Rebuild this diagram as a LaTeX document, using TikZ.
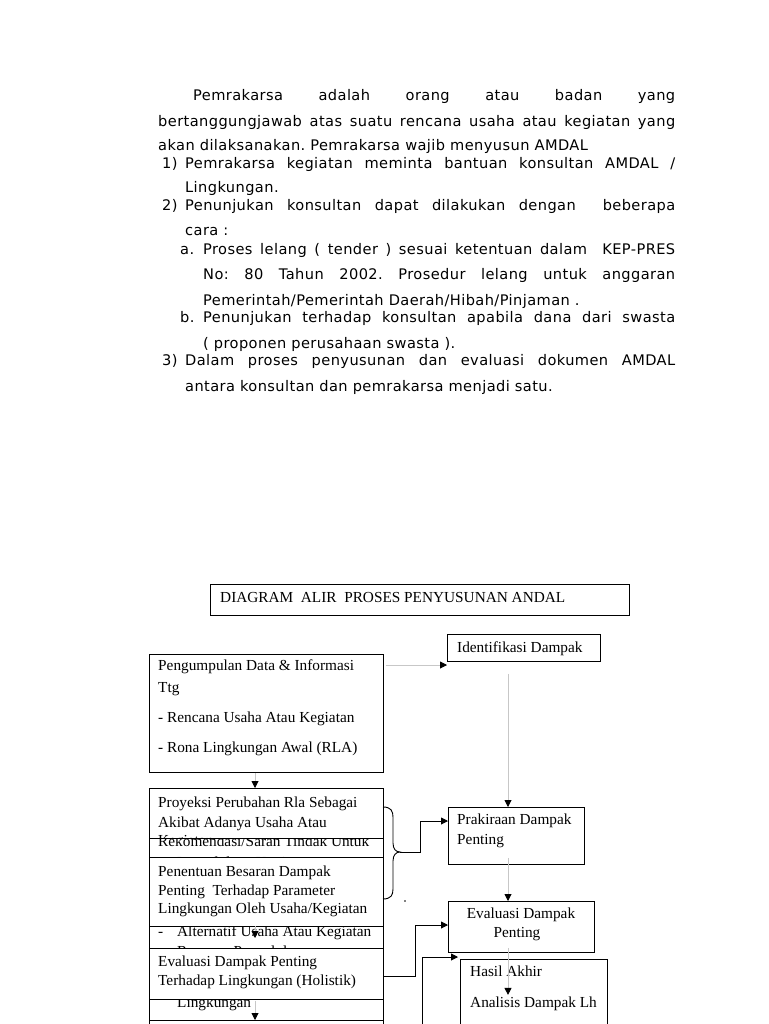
\documentclass[tikz,border=0pt]{standalone}
\usepackage{fontspec}
\setmainfont{Liberation Serif}
\newfontfamily\parafont[LetterSpace=2.8]{DejaVu Sans}
\usetikzlibrary{arrows.meta}
\frenchspacing
\tikzset{
  pl/.style={anchor=base west, inner sep=0pt, font=\parafont\fontsize{14.6}{17}\selectfont},
  bx/.style={draw=black, fill=white, line width=0.9pt, inner sep=0pt, anchor=north west},
  tx/.style={anchor=base west, inner sep=0pt, font=\fontsize{15.3}{18}\selectfont},
  gl/.style={draw=black!22, line width=0.9pt, -{Triangle[length=7pt,width=7pt,color=black]}},
  bl/.style={draw=black, line width=0.9pt, -{Triangle[length=7pt,width=7pt]}},
  bline/.style={draw=black, line width=0.9pt}
}
\begin{document}
\begin{tikzpicture}[x=1pt,y=-1pt]
\useasboundingbox (0,0) rectangle (768,1024);
\clip (0,0) rectangle (768,1024);
\fill[white] (0,0) rectangle (768,1024);

% ---------- paragraph ----------
\node[pl] (p1) at (193,101) {\makebox[482pt][s]{Pemrakarsa adalah orang atau badan yang}};
\node[pl] (p2) at (158,127) {\makebox[517pt][s]{bertanggungjawab atas suatu rencana usaha atau kegiatan yang}};
\node[pl] (p3) at (158,151) {akan dilaksanakan. Pemrakarsa wajib menyusun AMDAL};
\node[pl] (n1) at (162,169) {1)};
\node[pl] (p4) at (185,169) {\makebox[490pt][s]{Pemrakarsa kegiatan meminta bantuan konsultan AMDAL /}};
\node[pl] (p5) at (185,193) {Lingkungan.};
\node[pl] (n2) at (162,211) {2)};
\node[pl] (p6) at (185,211) {\makebox[490pt][s]{Penunjukan konsultan dapat dilakukan dengan \ beberapa}};
\node[pl] (p7) at (185,236) {cara :};
\node[pl] (na) at (180,254) {a.};
\node[pl] (p8) at (203,254) {\makebox[472pt][s]{Proses lelang ( tender ) sesuai ketentuan dalam \ KEP-PRES}};
\node[pl] (p9) at (203,279) {\makebox[472pt][s]{No: 80 Tahun 2002. Prosedur lelang untuk anggaran}};
\node[pl] (p10) at (203,305) {Pemerintah/Pemerintah Daerah/Hibah/Pinjaman .};
\node[pl] (nb) at (180,322) {b.};
\node[pl] (p11) at (203,322) {\makebox[472pt][s]{Penunjukan terhadap konsultan apabila dana dari swasta}};
\node[pl] (p12) at (203,348) {( proponen perusahaan swasta ).};
\node[pl] (n3) at (162,365) {3)};
\node[pl] (p13) at (185,365) {\makebox[490pt][s]{Dalam proses penyusunan dan evaluasi dokumen AMDAL}};
\node[pl] (p14) at (185,391) {antara konsultan dan pemrakarsa menjadi satu.};

% ---------- diagram ----------
\node[bx, minimum width=419pt, minimum height=31pt] (title) at (210,584) {};
\node[tx] at (220,602) {DIAGRAM \ ALIR \ PROSES PENYUSUNAN ANDAL};

\node[bx, minimum width=153pt, minimum height=27pt] (ident) at (447,634) {};
\node[tx] at (457,652) {Identifikasi Dampak};

\node[bx, minimum width=234pt, minimum height=118pt] (pengum) at (149,654) {};
\node[tx] at (158,670) {Pengumpulan Data \& Informasi};
\node[tx] at (158,692) {Ttg};
\node[tx] at (158,722) {- Rencana Usaha Atau Kegiatan};
\node[tx] at (158,752) {- Rona Lingkungan Awal (RLA)};

% stacked boxes on the left
\node[bx, minimum width=234pt, minimum height=82pt] (proy) at (149,788) {};
\begin{scope}
\clip (proy.south west) rectangle (proy.north east);
\node[tx] at (158,807) {Proyeksi Perubahan Rla Sebagai};
\node[tx] at (158,827) {Akibat Adanya Usaha Atau};
\node[tx] at (158,845) {Kegiatan};
\end{scope}

\node[bx, minimum width=234pt, minimum height=52pt] (rekom) at (149,838) {};
\begin{scope}
\clip (rekom.south west) rectangle (rekom.north east);
\node[tx] at (158,846) {Rekomendasi/Saran Tindak Untuk};
\node[tx] at (177,867) {Pengelolaan Kegiatan};
\end{scope}

\node[bx, minimum width=234pt, minimum height=83pt] (penent) at (149,857) {};
\begin{scope}
\clip (penent.south west) rectangle (penent.north east);
\node[tx] at (158,876) {Penentuan Besaran Dampak};
\node[tx] at (158,895) {Penting \ Terhadap Parameter};
\node[tx] at (158,913) {Lingkungan Oleh Usaha/Kegiatan};
\end{scope}

\node[bx, minimum width=234pt, minimum height=94pt] (altern) at (149,926) {};
\begin{scope}
\clip (altern.south west) rectangle (altern.north east);
\node[tx] at (158,936) {-};
\node[tx] at (177,936) {Alternatif Usaha Atau Kegiatan};
\node[tx] at (177,956) {Rencana Pengelolaan};
\node[tx] at (177,1007) {Lingkungan};
\end{scope}

\node[bx, minimum width=234pt, minimum height=51pt] (evalh) at (149,948) {};
\begin{scope}
\clip (evalh.south west) rectangle (evalh.north east);
\node[tx] at (158,966) {Evaluasi Dampak Penting};
\node[tx] at (158,985) {Terhadap Lingkungan (Holistik)};
\end{scope}

\node[bx, minimum width=234pt, minimum height=40pt] (last) at (149,1020) {};

% right column
\node[bx, minimum width=136pt, minimum height=57pt] (prak) at (448,807) {};
\node[tx] at (457,824) {Prakiraan Dampak};
\node[tx] at (457,844) {Penting};

\node[bx, minimum width=146pt, minimum height=51pt] (evald) at (448,901) {};
\node[tx, anchor=base] at (521,918) {Evaluasi Dampak};
\node[tx, anchor=base] at (517,937) {Penting};

\node[bx, minimum width=147pt, minimum height=90pt] (hasil) at (460,959) {};
\node[tx] at (470,976) {Hasil Akhir};
\node[tx] at (470,1007) {Analisis Dampak Lh};

% ---------- helper coordinates ----------
\coordinate (xa) at (255,0);
\coordinate (xb) at (508,0);
\coordinate (xc) at (420,0);
\coordinate (xd) at (415,0);
\coordinate (y665) at (0,665);
\coordinate (y821) at (0,821);
\coordinate (y925) at (0,925);
\coordinate (y957) at (0,957);
\coordinate (y976) at (0,976);
\coordinate (bracetip) at (400,852);
\coordinate (offpage) at (422,1040);

% ---------- connectors ----------
\draw[gl] ([xshift=2pt]pengum.east |- y665) -- (ident.west |- y665);
\draw[gl] ([yshift=-12pt]xb |- ident.south) -- (xb |- prak.north);
\draw[gl] (xa |- pengum.south) -- (xa |- proy.north);
\draw[gl] ([yshift=7pt]xb |- prak.south) -- (xb |- evald.north);
\draw[gl] ([yshift=5pt]xb |- evald.south) -- ([yshift=-42pt]xb |- evald.south);
\draw[gl] (xa |- altern.north) -- ([yshift=-12pt]xa |- altern.north);
\draw[gl] ([yshift=-1pt]xa |- evalh.south) -- (xa |- last.north);

% brace
\draw[bline] (383,807) .. controls (391,807) and (393,811) .. (393,817)
  -- (393,843) .. controls (393,849) and (396,852) .. (bracetip)
  .. controls (396,852) and (393,855) .. (393,861)
  -- (393,889) .. controls (393,895) and (391,899) .. (383,899);
\fill[black] (405,901) circle (0.8pt);

\draw[bl] (bracetip) -- (xc |- bracetip) |- (prak.west |- y821);
\draw[bl] (evalh.east |- y976) -| (xd |- y925) -- (evald.west |- y925);
\draw[bl] (offpage) |- ([xshift=-2pt]hasil.west |- y957);
\end{tikzpicture}
\end{document}
